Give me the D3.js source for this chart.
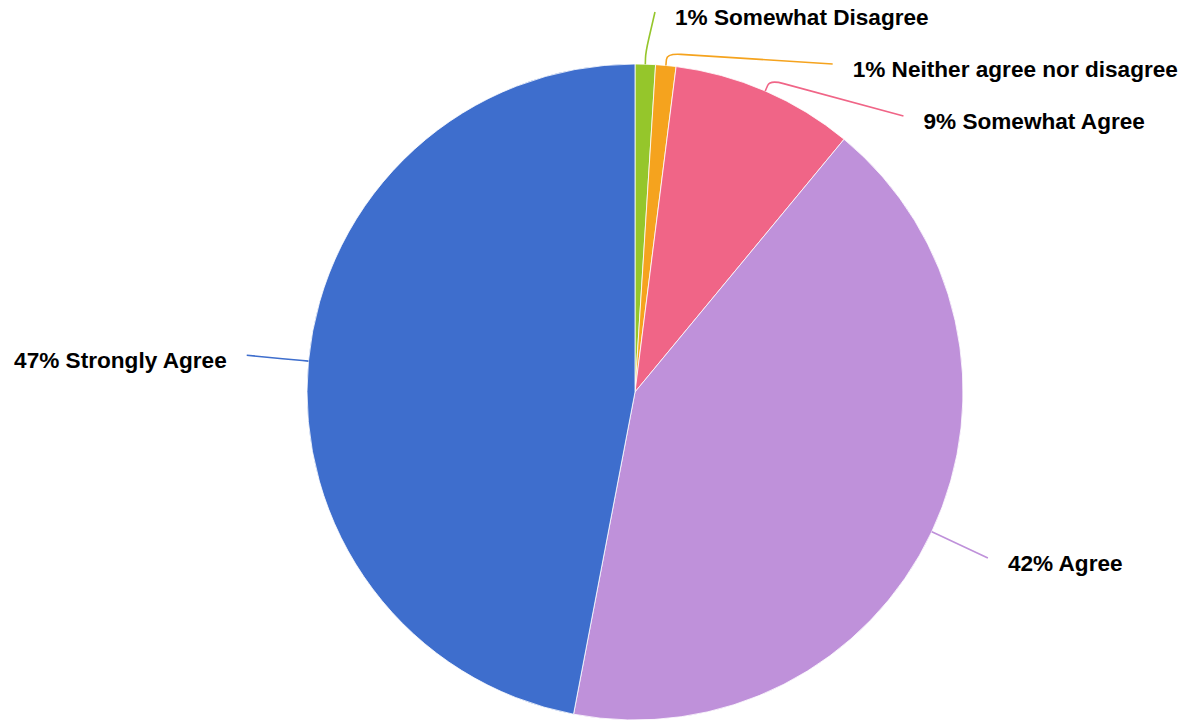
<!DOCTYPE html>
<html>
<head>
<meta charset="utf-8">
<script src="https://cdn.jsdelivr.net/npm/d3@7"></script>
<style>
  html, body { margin: 0; padding: 0; background: #ffffff; }
  svg { display: block; }
  text { font-family: "Liberation Sans", Arial, Helvetica, sans-serif; font-weight: bold; }
</style>
</head>
<body>
<svg id="chart" width="1191" height="721"></svg>
<script>
// Survey responses, listed clockwise from 12 o'clock
const categories = ["Somewhat Disagree", "Neither agree nor disagree", "Somewhat Agree", "Agree", "Strongly Agree"];
const percentages = [1, 1, 9, 42, 47];
const sliceColors = ["#95c62b", "#f5a31e", "#f06587", "#bf91da", "#3e6ecd"];

const width = 1191, height = 721;
const cx = 635, cy = 392;
const radius = 328;
const elbowLen = 12;      // first leg of the leader line
const labelRadius = 390;  // where leader lines end
const minGap = 52;        // vertical spacing between stacked labels
const topBound = 12;

const data = categories.map((c, i) => ({ name: c, value: percentages[i], color: sliceColors[i] }));

const svg = d3.select("#chart");
const g = svg.append("g").attr("transform", `translate(${cx},${cy})`);

const pie = d3.pie().sort(null).value(d => d.value);
const arcs = pie(data);
const arc = d3.arc().innerRadius(0).outerRadius(radius);

g.selectAll("path.slice")
  .data(arcs)
  .join("path")
  .attr("class", "slice")
  .attr("d", arc)
  .attr("fill", d => d.data.color)
  .attr("stroke", "#ffffff")
  .attr("stroke-width", 0.8)
  .attr("stroke-linejoin", "round");

// Label anchor layout: start on a circle at the slice mid-angle,
// then push crowded labels apart vertically on each side.
const items = arcs.map(a => {
  const mid = (a.startAngle + a.endAngle) / 2;
  const s = Math.sin(mid), c = -Math.cos(mid);
  return {
    arc: a,
    mid,
    dir: s >= 0 ? 1 : -1,
    p0: [radius * s, radius * c],
    p1: [(radius + elbowLen) * s, (radius + elbowLen) * c],
    x: labelRadius * s,
    y: labelRadius * c,
    shifted: false
  };
});

[1, -1].forEach(dir => {
  const side = items.filter(it => it.dir === dir).sort((a, b) => a.y - b.y);
  let prev = null;
  side.forEach(it => {
    let y = it.y;
    if (prev === null) y = Math.max(y, topBound - cy);
    else y = Math.max(y, prev.y + minGap);
    if (Math.abs(y - it.y) > 0.5) it.shifted = true;
    it.y = y;
    prev = it;
  });
  // shifted labels slide along an ellipse so they hug the pie
  const shifted = side.filter(it => it.shifted);
  if (shifted.length) {
    const rB = d3.max(shifted, it => Math.abs(it.y)) + 0.5;
    shifted.forEach(it => {
      const t = Math.max(0, 1 - (it.y * it.y) / (rB * rB));
      it.x = dir * labelRadius * Math.sqrt(t);
    });
  }
});

// Leader line with a rounded elbow
function leader(it) {
  const p0 = it.p0, p1 = it.p1, p2 = [it.x, it.y];
  const d01 = Math.hypot(p1[0] - p0[0], p1[1] - p0[1]);
  const d12 = Math.hypot(p2[0] - p1[0], p2[1] - p1[1]);
  const c1 = Math.min(d01 * 0.5, 6);
  const c2 = Math.min(d12 * 0.5, 14);
  const a = [p1[0] - (p1[0] - p0[0]) / d01 * c1, p1[1] - (p1[1] - p0[1]) / d01 * c1];
  const b = [p1[0] + (p2[0] - p1[0]) / d12 * c2, p1[1] + (p2[1] - p1[1]) / d12 * c2];
  const path = d3.path();
  path.moveTo(p0[0], p0[1]);
  path.lineTo(a[0], a[1]);
  path.quadraticCurveTo(p1[0], p1[1], b[0], b[1]);
  path.lineTo(p2[0], p2[1]);
  return path.toString();
}

g.selectAll("path.leader")
  .data(items)
  .join("path")
  .attr("class", "leader")
  .attr("d", leader)
  .attr("fill", "none")
  .attr("stroke", d => d.arc.data.color)
  .attr("stroke-width", 1.6);

g.selectAll("text.label")
  .data(items)
  .join("text")
  .attr("class", "label")
  .attr("x", d => d.x + d.dir * 20)
  .attr("y", d => d.y + 13)
  .attr("text-anchor", d => d.dir > 0 ? "start" : "end")
  .attr("font-size", 22.6)
  .attr("fill", "#000000")
  .text(d => `${d.arc.data.value}% ${d.arc.data.name}`);
</script>
</body>
</html>
